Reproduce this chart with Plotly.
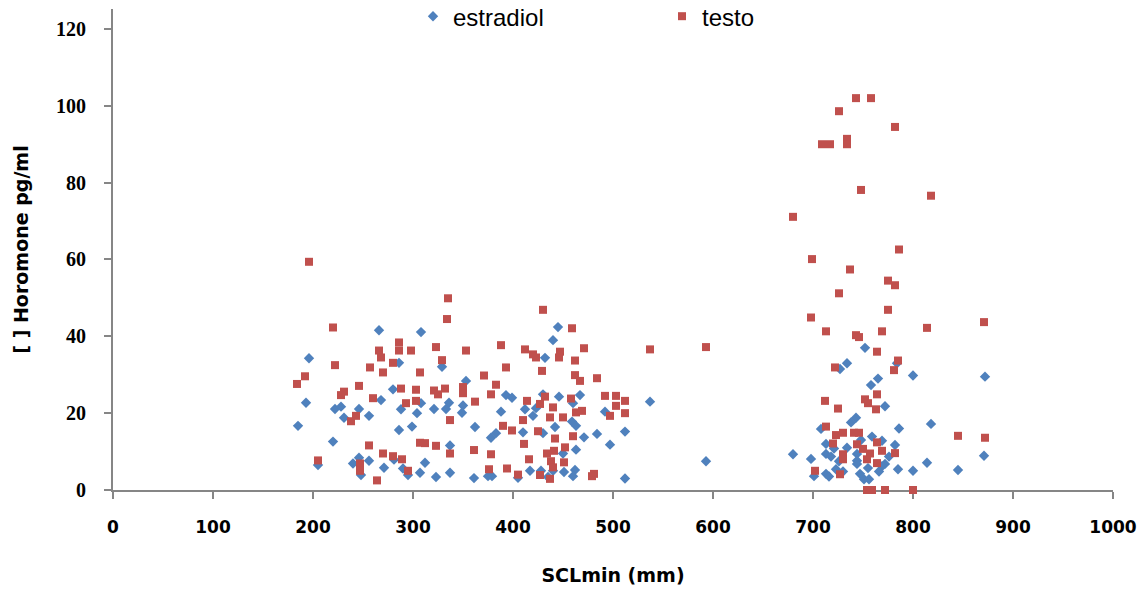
import plotly.graph_objects as go

# Estradiol concentration vs. straight carapace length (minimum)
est_x = [196, 193, 222, 228, 246, 256, 231, 185, 220, 205, 240, 246, 256, 248,
         266, 308, 445, 440, 432, 286, 329, 353, 280, 268, 308, 393, 399, 430,
         446, 288, 304, 321, 333, 336, 350, 349, 388, 412, 423, 420, 286, 299,
         362, 378, 383, 410, 430, 442, 337, 281, 312, 271, 290, 295, 307, 323,
         337, 361, 375, 379, 405, 417, 428, 440, 435, 467, 460, 537, 492, 459,
         463, 484, 471, 512, 497, 463, 450, 451, 462, 460, 512, 593, 680, 698,
         708, 713, 713, 701, 713, 752, 734, 727, 784, 800, 872, 765, 758, 772,
         743, 738, 786, 818, 759, 748, 769, 734, 721, 782, 718, 726, 744, 744,
         776, 772, 769, 723, 730, 744, 747, 755, 766, 751, 756, 785, 800, 871,
         814, 845, 716]
est_y = [34.3, 22.7, 21.1, 21.7, 21.1, 19.3, 18.8, 16.7, 12.6, 6.5, 6.9, 8.4, 7.6, 3.9,
         41.6, 41.1, 42.4, 39.0, 34.4, 33.1, 32.1, 28.4, 26.2, 23.4, 22.6, 24.7, 24.0, 24.9,
         24.3, 21.0, 20.0, 21.1, 21.1, 22.7, 22.0, 20.1, 20.4, 21.0, 21.3, 19.3, 15.6, 16.5,
         16.4, 13.6, 14.8, 15.0, 14.8, 16.4, 11.6, 7.9, 7.1, 5.8, 5.6, 3.9, 4.5, 3.4,
         4.5, 3.1, 3.6, 3.6, 3.2, 5.0, 5.0, 5.0, 3.4, 24.7, 22.6, 23.0, 20.4, 17.8,
         16.7, 14.6, 13.7, 15.2, 11.8, 10.5, 9.5, 4.7, 5.2, 3.6, 3.0, 7.5, 9.3, 8.1,
         15.9, 12.0, 9.4, 3.6, 4.2, 37.0, 33.0, 31.5, 33.0, 29.8, 29.5, 29.0, 27.3, 21.8,
         18.8, 17.6, 16.0, 17.2, 13.9, 13.0, 12.8, 11.0, 10.8, 11.7, 8.7, 7.5, 9.4, 7.6,
         8.7, 6.8, 6.2, 5.4, 4.8, 6.8, 4.2, 5.7, 4.8, 2.8, 2.8, 5.4, 5.0, 8.9,
         7.1, 5.2, 3.5]

# Testosterone concentration vs. straight carapace length (minimum)
testo_x = [196, 220, 222, 192, 184, 246, 231, 228, 243, 238, 205, 247, 247,
           335, 334, 430, 286, 286, 266, 268, 298, 323, 353, 388, 412, 420, 423,
           329, 257, 280, 270, 307, 393, 429, 371, 288, 303, 321, 332, 350, 350,
           325, 383, 378, 260, 293, 303, 362, 414, 432, 427, 440, 337, 410, 437,
           390, 399, 425, 442, 307, 312, 323, 256, 411, 270, 337, 361, 378, 434,
           441, 280, 289, 416, 438, 295, 376, 394, 440, 405, 427, 437, 264,
           459, 471, 537, 447, 446, 462, 462, 467, 484, 458, 492, 503, 512, 503,
           463, 469, 497, 512, 450, 460, 452, 451, 481, 479,
           698, 713, 593, 712, 713, 702, 680, 699, 709, 743, 758, 726, 782, 717,
           734, 734, 748, 818, 786, 737, 775, 782, 726, 775, 871, 814, 743, 746,
           769, 764, 785, 781, 722, 764, 752, 755, 725, 763, 723, 730, 741, 746,
           744, 720, 764, 750, 769, 730, 730, 757, 754, 782, 764, 727, 754, 759,
           772, 800, 845, 872]
testo_y = [59.4, 42.3, 32.5, 29.6, 27.6, 27.1, 25.6, 24.7, 19.3, 17.9, 7.7, 6.9, 5.0,
           49.9, 44.5, 46.9, 38.4, 36.3, 36.3, 34.5, 36.3, 37.2, 36.3, 37.7, 36.6, 35.3, 34.5,
           33.8, 31.9, 33.1, 30.6, 30.6, 31.9, 31.0, 29.8, 26.4, 26.1, 25.9, 26.4, 26.8, 25.2,
           24.9, 27.4, 24.9, 23.9, 22.6, 23.2, 23.0, 23.2, 24.3, 22.4, 21.5, 18.2, 18.2, 18.9,
           16.7, 15.5, 15.3, 13.4, 12.3, 12.2, 11.5, 11.6, 12.0, 9.5, 9.5, 10.4, 9.3, 9.5,
           10.2, 8.8, 8.0, 8.0, 7.5, 5.0, 5.4, 5.6, 5.9, 4.0, 3.9, 2.9, 2.5,
           42.1, 36.9, 36.6, 36.0, 34.5, 33.7, 29.9, 28.4, 29.1, 23.8, 24.5, 24.5, 23.2, 21.9,
           20.2, 20.6, 19.3, 20.0, 18.9, 14.0, 11.1, 7.2, 4.2, 3.6,
           44.9, 41.3, 37.2, 23.2, 16.5, 5.0, 71.1, 60.1, 90.0, 102.0, 102.0, 98.6, 94.5, 90.0,
           91.4, 90.0, 78.1, 76.6, 62.6, 57.4, 54.5, 53.3, 51.2, 46.9, 43.7, 42.2, 40.3, 39.8,
           41.3, 36.0, 33.7, 31.2, 31.9, 24.9, 23.6, 22.6, 21.2, 21.0, 14.3, 14.9, 14.9, 14.9,
           11.9, 12.1, 12.4, 10.7, 10.2, 9.3, 8.0, 9.5, 8.0, 9.6, 7.0, 4.1, 0.0, 0.0,
           0.0, 0.0, 14.1, 13.6]

x_ticks = [0, 100, 200, 300, 400, 500, 600, 700, 800, 900, 1000]
y_ticks = [0, 20, 40, 60, 80, 100, 120]

BLUE = "#4F81BD"
RED = "#C0504D"
AXIS = "#868686"

fig = go.Figure()
fig.add_trace(go.Scatter(
    x=est_x, y=est_y, mode="markers", name="estradiol",
    marker=dict(symbol="diamond", size=8, color=BLUE),
    cliponaxis=False,
))
fig.add_trace(go.Scatter(
    x=testo_x, y=testo_y, mode="markers", name="testo",
    marker=dict(symbol="square", size=8, color=RED),
    cliponaxis=False,
))

fig.update_layout(
    width=1147, height=592,
    margin=dict(l=113, r=34, t=9, b=102, autoexpand=False),
    paper_bgcolor="white", plot_bgcolor="white",
    showlegend=True,
    legend=dict(
        orientation="h", x=0.300, xanchor="left", y=1.031, yanchor="top",
        font=dict(family="Liberation Sans, Arial, sans-serif", size=24, color="black"),
        entrywidth=204, entrywidthmode="pixels",
        bgcolor="rgba(0,0,0,0)",
    ),
)

fig.update_xaxes(
    range=[0, 1000], tickvals=x_ticks, ticktext=[f"<b>{v}</b>" for v in x_ticks],
    showgrid=False, zeroline=False,
    showline=True, linecolor=AXIS, linewidth=2,
    ticks="outside", ticklen=7, tickwidth=2, tickcolor=AXIS,
    tickfont=dict(family="DejaVu Sans, sans-serif", size=17, color="black"),
    ticklabelstandoff=14,
    layer="below traces",
    title=dict(text="<b>SCLmin (mm)</b>", standoff=32,
               font=dict(family="DejaVu Sans, sans-serif", size=19, color="black")),
)
fig.update_yaxes(
    range=[0, 125.2], tickvals=y_ticks, ticktext=[f"<b>{v}</b>" for v in y_ticks],
    showgrid=False, zeroline=False,
    showline=True, linecolor=AXIS, linewidth=2,
    ticks="outside", ticklen=7, tickwidth=2, tickcolor=AXIS,
    tickfont=dict(family="Liberation Serif, serif", size=20, color="black"),
    ticklabelstandoff=14,
    layer="below traces",
    title=dict(text="<b>[ ] Horomone pg/ml</b>", standoff=22,
               font=dict(family="DejaVu Sans, sans-serif", size=19, color="black")),
)

fig.write_html("out.html")
